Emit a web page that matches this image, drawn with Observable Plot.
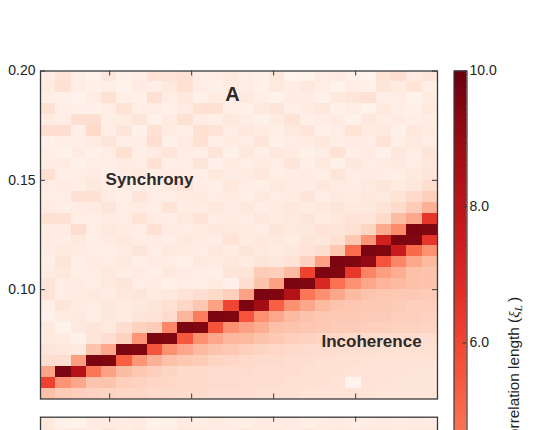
<!DOCTYPE html>
<html><head><meta charset="utf-8">
<script src="https://cdn.jsdelivr.net/npm/d3@7"></script>
<script src="https://cdn.jsdelivr.net/npm/@observablehq/plot@0.6"></script>
<style>
html,body{margin:0;padding:0;background:#fff;}
#wrap{position:relative;width:545px;height:430px;overflow:hidden;background:#fff;font-family:"Liberation Sans",Arial,sans-serif;}
#wrap > div{position:absolute;}
</style></head><body>
<div id="wrap"><div id="a" style="left:0;top:0"></div><div id="b" style="left:0;top:404px"></div><div id="cb" style="left:440px;top:0"></div></div>
<script>
// column index (x parameter bins) and lower edge of each y bin (top row first)
const xCols = d3.range(0, 26);
const yLow = [0.195,0.190,0.185,0.180,0.175,0.170,0.165,0.160,0.155,0.150,0.145,0.140,0.135,0.130,0.125,0.120,0.115,0.110,0.105,0.100,0.095,0.090,0.085,0.080,0.075,0.070,0.065,0.060,0.055,0.050];
const xTicks = [4.53, 9.9, 15.27, 20.64];
const yTicks = [0.10, 0.15, 0.20];
const cbTicks = [0, 2, 4, 6, 8, 10];
// correlation length per cell, rows top (0.195) to bottom (0.050)
const xi = [
[0.5,1.0,0.4,0.2,0.8,0.3,0.4,1.0,1.0,1.1,0.4,0.5,0.7,0.4,0.3,0.8,0.1,0.2,0.5,0.6,0.3,0.1,1.0,1.2,0.6,0.9],
[0.6,1.1,0.5,0.3,0.4,0.2,0.6,0.4,0.7,1.1,0.5,0.3,0.6,0.5,0.3,0.7,0.5,0.8,0.4,0.2,0.5,0.3,0.9,0.6,1.0,0.4],
[0.4,0.3,0.2,0.5,1.1,0.4,0.3,1.1,0.5,0.8,0.3,0.6,0.4,0.7,0.4,0.2,0.6,0.5,0.3,0.7,0.9,1.1,0.4,0.5,0.2,0.6],
[1.1,0.4,0.3,0.3,0.5,1.0,0.4,0.5,0.3,0.6,1.1,1.1,0.4,0.3,0.7,0.9,0.4,0.6,0.8,0.3,0.5,0.2,0.7,0.4,0.3,0.7],
[0.6,0.5,1.2,1.2,0.4,0.6,0.9,0.3,0.6,1.1,0.5,0.4,0.7,0.5,0.3,0.6,1.0,0.4,0.5,0.6,0.3,0.8,0.5,0.6,0.4,0.5],
[1.2,1.2,0.4,1.4,0.5,0.9,0.3,1.1,0.6,0.4,1.1,1.0,0.5,0.8,0.6,0.4,0.7,0.9,0.3,0.5,1.0,0.6,0.7,0.3,0.8,0.6],
[0.3,0.5,0.4,0.6,0.9,0.4,0.5,1.2,0.3,0.6,1.1,0.4,0.6,0.5,0.9,0.3,0.5,0.6,0.8,0.4,0.6,0.5,1.0,0.4,0.7,0.5],
[0.4,0.2,0.6,0.3,0.5,1.1,0.4,0.6,0.9,0.5,0.4,0.9,0.3,0.7,0.4,0.8,0.6,0.3,0.5,1.0,0.4,0.6,0.3,0.8,0.5,0.9],
[0.5,0.6,0.3,0.5,0.4,0.6,0.5,1.1,0.4,0.5,0.9,0.3,0.6,0.4,0.6,0.5,0.9,0.4,0.7,0.3,0.8,0.5,0.6,0.7,0.5,0.8],
[1.1,0.4,0.5,0.6,0.3,0.5,0.7,0.4,0.6,0.5,0.4,0.7,0.5,0.6,0.8,0.4,0.5,0.6,0.4,0.9,0.5,0.6,0.5,0.4,0.7,0.9],
[0.5,0.6,0.4,0.7,0.5,0.6,0.4,0.5,0.7,1.0,0.5,0.4,0.8,0.5,0.4,0.7,0.6,0.5,0.8,0.6,0.5,0.7,0.9,0.6,0.8,1.2],
[0.4,0.5,1.1,1.1,0.6,0.4,0.9,0.5,0.4,0.6,0.7,0.5,0.6,0.4,0.7,0.5,0.6,0.9,0.5,0.7,0.6,0.8,0.7,1.0,1.4,1.8],
[0.6,0.4,0.5,0.6,0.9,0.5,0.6,0.4,1.0,0.5,0.6,0.8,0.5,0.7,0.5,0.6,0.8,0.6,0.7,0.9,0.7,0.8,1.0,1.3,1.9,2.8],
[1.1,1.1,0.5,0.4,0.6,0.5,1.0,0.6,0.5,0.7,1.0,0.5,0.6,0.5,0.8,0.6,0.7,0.9,0.6,0.8,1.0,0.9,1.4,2.4,3.1,6.5],
[0.5,0.6,1.2,0.5,0.7,0.6,0.5,1.1,0.6,0.5,0.6,0.8,0.7,0.6,0.5,0.9,0.7,0.8,1.0,0.9,1.1,1.6,3.0,4.0,9.6,9.5],
[0.6,0.5,0.7,0.4,0.6,0.8,0.5,0.6,0.4,0.7,0.6,0.5,1.0,0.6,0.8,0.7,0.5,0.9,0.8,1.1,2.1,3.7,7.3,9.6,9.5,6.5],
[0.5,0.7,0.6,0.5,0.4,0.6,0.9,0.5,0.7,0.6,0.5,0.8,0.6,0.9,0.7,0.6,0.8,1.0,1.2,2.1,4.9,9.6,9.5,7.6,5.0,3.8],
[0.4,0.9,0.4,0.6,0.5,0.7,0.4,0.6,0.5,0.3,0.7,0.6,0.8,0.6,0.9,0.8,1.0,1.7,3.3,9.6,9.5,9.1,5.6,4.1,3.1,2.5],
[0.5,0.8,0.4,0.5,0.7,0.5,0.6,0.4,0.7,0.6,0.5,0.4,0.9,0.9,1.9,1.8,2.5,6.1,9.6,9.5,6.4,4.2,3.4,2.9,2.3,2.2],
[0.9,0.5,0.6,0.4,0.7,0.9,0.5,0.6,0.3,0.5,0.4,0.6,0.3,1.2,2.2,3.3,9.6,9.5,7.0,4.8,3.8,3.1,2.7,2.5,2.3,2.2],
[1.0,0.5,0.6,0.7,0.5,0.8,0.9,0.6,0.7,1.0,1.2,1.4,1.8,3.3,9.6,9.5,8.3,4.6,3.8,3.1,2.5,2.2,2.1,2.0,2.0,1.9],
[0.4,0.9,0.6,0.5,0.8,0.6,0.7,0.9,1.1,1.5,2.1,3.3,6.0,9.6,8.7,5.3,3.8,3.1,2.5,2.2,2.1,2.0,2.0,1.9,1.8,1.8],
[0.3,0.6,0.7,0.5,0.8,0.6,0.9,1.0,1.3,2.7,4.4,9.6,9.5,5.6,3.8,3.1,2.5,2.2,2.1,2.0,2.0,1.9,1.9,1.8,1.8,1.7],
[0.7,0.2,0.7,0.9,0.7,1.2,1.7,1.9,4.1,9.6,9.5,5.6,3.8,3.3,2.9,2.3,2.2,2.1,2.0,1.9,1.9,1.8,1.8,1.7,1.7,1.6],
[0.7,0.6,0.3,0.9,1.2,1.7,3.7,9.6,9.5,5.5,3.8,3.1,2.6,2.5,2.2,2.0,1.8,1.7,1.6,1.5,1.4,1.4,1.3,1.3,1.3,1.2],
[0.9,0.8,0.7,2.2,3.1,9.6,9.5,5.6,3.8,3.1,2.5,2.2,2.0,1.8,1.6,1.5,1.4,1.3,1.3,1.2,1.2,1.2,1.1,1.1,1.1,1.1],
[1.2,1.2,3.4,9.6,9.5,5.3,3.7,2.8,2.3,2.1,1.9,1.6,1.5,1.4,1.3,1.3,1.2,1.2,1.1,1.1,1.1,1.0,1.0,1.0,1.0,1.0],
[3.2,9.6,8.2,4.6,3.3,2.4,2.1,1.8,1.6,1.4,1.4,1.3,1.3,1.3,1.2,1.2,1.2,1.1,1.1,1.1,1.0,1.0,1.0,1.0,0.9,0.9],
[6.1,3.7,3.1,2.2,2.2,1.8,1.7,1.5,1.5,1.4,1.4,1.3,1.3,1.2,1.2,1.2,1.1,1.1,1.1,1.0,0.1,1.0,1.0,0.9,0.9,0.9],
[2.3,1.9,1.8,1.7,1.6,1.5,1.5,1.4,1.4,1.3,1.3,1.2,1.2,1.2,1.1,1.1,1.1,1.0,1.0,1.0,1.0,1.0,0.9,0.9,0.9,0.9]
];
// panel B (only its top two rows are visible)
const yLowB = [0.195, 0.190];
const xiB = [
[0.7,0.3,0.2,0.6,0.6,0.5,0.6,0.2,0.3,0.6,0.5,0.6,0.5,0.4,0.6,0.5,0.6,0.4,0.5,0.6,0.4,0.5,0.6,0.5,0.6,0.5],
[0.8,0.6,0.7,0.5,0.9,0.6,0.7,0.5,0.6,0.8,0.7,0.5,0.6,0.8,0.6,0.7,0.5,0.8,0.6,0.7,0.6,0.8,0.7,0.6,0.7,0.8]
];
const colorbarLabel = "Correlation length (";

const font = '"Liberation Sans", Arial, Helvetica, sans-serif';
const style = {fontFamily: font, fontSize: "14px", color: "#222", background: "transparent", overflow: "visible"};
const color = {type: "linear", scheme: "reds", domain: [0, 10]};
const frameColor = "#3a3a3a";

const toCells = (rows, ys) => {
  const out = [];
  ys.forEach((y, i) => xCols.forEach((x, j) => out.push({x, y, v: rows[i][j]})));
  return out;
};
const cellsA = toCells(xi, yLow);
const cellsB = toCells(xiB, yLowB);
const W = 26, dY = 0.005;

const plotA = Plot.plot({
  width: 440, height: 404,
  marginLeft: 40, marginRight: 3, marginTop: 70.5, marginBottom: 5.5,
  x: {domain: [0, W], axis: null},
  y: {domain: [0.05, 0.20], axis: null},
  color,
  style,
  marks: [
    Plot.rect(cellsA, {x1: "x", x2: d => d.x + 1, y1: "y", y2: d => d.y + dY, fill: "v", shapeRendering: "crispEdges"}),
    Plot.tickX(xTicks, {x: d => d, insetBottom: 323, stroke: frameColor}),
    Plot.tickX(xTicks, {x: d => d, insetTop: 323, stroke: frameColor}),
    Plot.tickY(yTicks, {y: d => d, insetRight: 392, stroke: frameColor}),
    Plot.tickY(yTicks, {y: d => d, insetLeft: 392, stroke: frameColor}),
    Plot.axisY(yTicks, {anchor: "left", tickSize: 0, tickPadding: 5, tickFormat: d3.format(".2f"), fontSize: 14, fill: "#222", label: null}),
    Plot.text(["A"], {x: 12.57, y: 0.189, text: d => d, fontSize: 20, fontWeight: "bold", fill: "#2a2a2a", textAnchor: "middle"}),
    Plot.text(["Synchrony"], {x: 4.26, y: 0.1505, text: d => d, fontSize: 17, fontWeight: "bold", fill: "#2a2a2a", textAnchor: "start"}),
    Plot.text(["Incoherence"], {x: 18.4, y: 0.0765, text: d => d, fontSize: 17, fontWeight: "bold", fill: "#2a2a2a", textAnchor: "start"}),
    Plot.frame({stroke: frameColor, strokeWidth: 1.3})
  ]
});
document.getElementById("a").append(plotA);

const plotB = Plot.plot({
  width: 440, height: 380,
  marginLeft: 40, marginRight: 3, marginTop: 12.7, marginBottom: 39.3,
  x: {domain: [0, W], axis: null},
  y: {domain: [0.05, 0.20], axis: null},
  color,
  style,
  marks: [
    Plot.rect(cellsB, {x1: "x", x2: d => d.x + 1, y1: "y", y2: d => d.y + dY, fill: "v", shapeRendering: "crispEdges"}),
    Plot.tickX(xTicks, {x: d => d, insetBottom: 323, stroke: frameColor}),
    Plot.frame({stroke: frameColor, strokeWidth: 1.3})
  ]
});
document.getElementById("b").append(plotB);

const ramp = d3.range(0, 10, 0.025);
const cb = Plot.plot({
  width: 105, height: 800,
  marginLeft: 13.5, marginRight: 78.5, marginTop: 70.5, marginBottom: 49.5,
  x: {domain: [0, 1], axis: null},
  y: {domain: [0, 10], axis: null},
  color,
  style,
  marks: [
    Plot.rect(ramp, {x1: 0, x2: 1, y1: d => d, y2: d => d + 0.03, fill: d => d, shapeRendering: "crispEdges", clip: true}),
    Plot.tickY(cbTicks, {y: d => d, insetLeft: 9, stroke: frameColor}),
    Plot.axisY(cbTicks, {anchor: "right", tickSize: 0, tickPadding: 2.5, tickFormat: d3.format(".1f"), fontSize: 14, fill: "#222", label: null}),
    Plot.frame({stroke: frameColor, strokeWidth: 1.2})
  ]
});
const lab = d3.select(cb).append("text")
  .attr("transform", "translate(78.5,297) rotate(-90)")
  .attr("text-anchor", "end")
  .attr("font-size", 15.3)
  .attr("fill", "#222")
  .attr("font-family", font);
lab.append("tspan").text(colorbarLabel);
lab.append("tspan").attr("font-family", '"Liberation Serif", "DejaVu Serif", serif').attr("font-style", "italic").text("ξ");
lab.append("tspan").attr("font-family", '"Liberation Serif", "DejaVu Serif", serif').attr("font-style", "italic").attr("font-size", 11).attr("dy", 3).text("L");
lab.append("tspan").attr("dy", -3).text("\u2009)");
document.getElementById("cb").append(cb);
</script>
</body></html>
